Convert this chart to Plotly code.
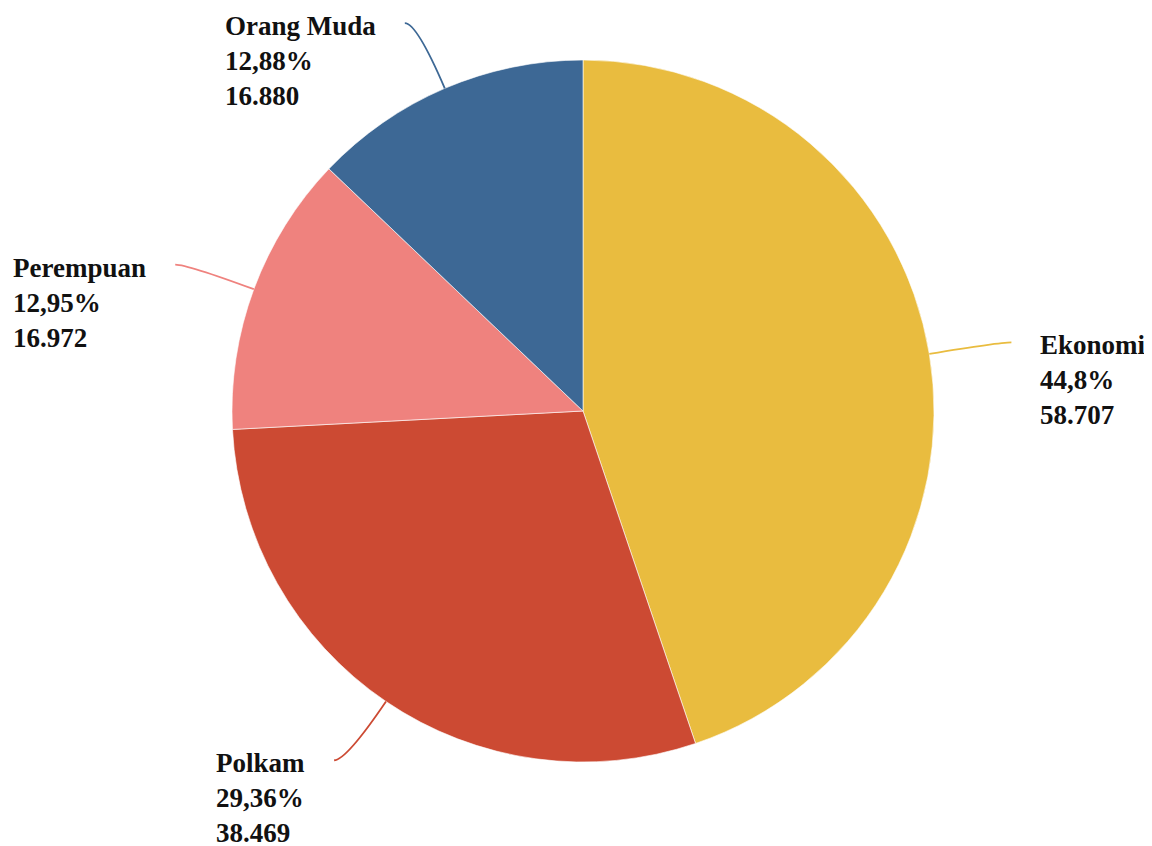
import math
import plotly.graph_objects as go

labels = ["Ekonomi", "Polkam", "Perempuan", "Orang Muda"]
values = [58707, 38469, 16972, 16880]
pct_text = ["44,8%", "29,36%", "12,95%", "12,88%"]
val_text = ["58.707", "38.469", "16.972", "16.880"]
colors = ["#E9BC3F", "#CC4A33", "#EF827E", "#3D6895"]

# page body has an 8px margin, so the figure is slightly smaller
W, H = 1144, 838
cx, cy, R = 575, 403, 351  # pie geometry in figure px
FS = 27

fig = go.Figure(go.Pie(
    labels=labels, values=values, sort=False, direction="clockwise", rotation=0,
    marker=dict(colors=colors, line=dict(color="white", width=0.6)),
    textinfo="none", hoverinfo="label+value+percent", showlegend=False,
    domain=dict(x=[(cx - R) / W, (cx + R) / W], y=[1 - (cy + R) / H, 1 - (cy - R) / H]),
))

total = sum(values)
shapes, annos = [], []
cum = 0
L, HZ = 71, 12
for lab, v, p, vt, col in zip(labels, values, pct_text, val_text, colors):
    mid = (cum + v / 2) / total * 2 * math.pi
    cum += v
    dx, dy = math.sin(mid), -math.cos(mid)
    x0, y0 = cx + R * dx, cy + R * dy
    x1, y1 = x0 + L * dx, y0 + L * dy
    s = 1 if dx > 0 else -1
    x2, y2 = x1 + s * HZ, y1
    path = f"M {x0/W},{1-y0/H} Q {x1/W},{1-y1/H} {x2/W},{1-y2/H}"
    shapes.append(dict(type="path", xref="paper", yref="paper", path=path,
                       line=dict(color=col, width=1.8)))
    tx = x2 + s * 27
    annos.append(dict(
        xref="paper", yref="paper", x=tx / W, y=1 - (y2 - 14) / H,
        xanchor="left" if s > 0 else "right", yanchor="top", align="left",
        showarrow=False, text=f"<b>{lab}<br>{p}<br>{vt}</b>",
        font=dict(family="Liberation Serif", size=FS, color="#111111"),
    ))

fig.update_layout(
    width=W, height=H, margin=dict(l=0, r=0, t=0, b=0),
    paper_bgcolor="white", plot_bgcolor="white",
    shapes=shapes, annotations=annos,
)
fig.write_html("out.html")
